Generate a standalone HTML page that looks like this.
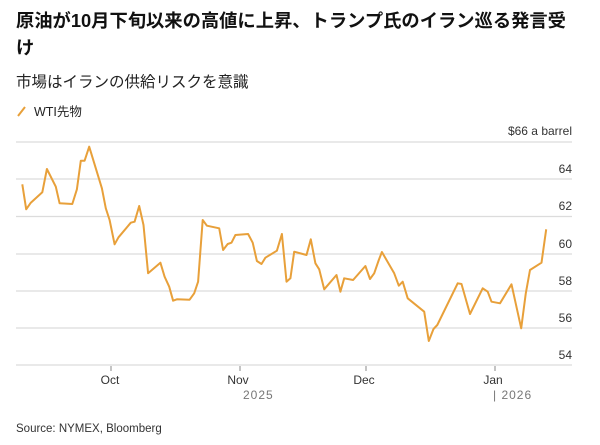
<!DOCTYPE html>
<html><head><meta charset="utf-8"><style>
body{margin:0;width:600px;height:445px;background:#fff;overflow:hidden;font-family:"Liberation Sans","Noto Sans CJK JP",sans-serif;color:#111}
.t{position:absolute;left:16px;top:7px;width:566px;font-size:18.3px;font-weight:bold;line-height:27px}
.s{position:absolute;left:16px;top:70px;font-size:15.5px;color:#222}
.l{position:absolute;left:34px;top:101px;font-size:12.5px;color:#222}
</style></head><body>
<div class="t">原油が10月下旬以来の高値に上昇、トランプ氏のイラン巡る発言受け</div>
<div class="s">市場はイランの供給リスクを意識</div>
<svg style="position:absolute;left:16px;top:104px" width="12" height="14"><line x1="2" y1="12" x2="9" y2="3" stroke="#e8a03a" stroke-width="2"/></svg>
<div class="l">WTI先物</div>
<svg width="600" height="445" style="position:absolute;left:0;top:0" font-family="Liberation Sans, sans-serif">
<g stroke="#dcdcdc" stroke-width="1.3">
<line x1="16" x2="572" y1="142" y2="142"/><line x1="16" x2="572" y1="179" y2="179"/><line x1="16" x2="572" y1="216.5" y2="216.5"/><line x1="16" x2="572" y1="254" y2="254"/><line x1="16" x2="572" y1="291" y2="291"/><line x1="16" x2="572" y1="328" y2="328"/><line x1="16" x2="572" y1="365" y2="365"/>
</g>
<g stroke="#888" stroke-width="1"><line x1="111" x2="111" y1="366" y2="371"/><line x1="240" x2="240" y1="366" y2="371"/><line x1="366" x2="366" y1="366" y2="371"/><line x1="495" x2="495" y1="366" y2="371"/></g>
<g font-size="12" fill="#333" text-anchor="end">
<text x="572" y="135">$66 a barrel</text><text x="572" y="173">64</text><text x="572" y="210">62</text><text x="572" y="248">60</text><text x="572" y="285">58</text><text x="572" y="322">56</text><text x="572" y="359">54</text>
</g>
<g font-size="12" fill="#333" text-anchor="middle">
<text x="110" y="384">Oct</text><text x="238" y="384">Nov</text><text x="364" y="384">Dec</text><text x="493" y="384">Jan</text>
</g>
<g font-size="12" fill="#777" letter-spacing="1"><text x="243" y="399">2025</text><text x="493" y="399">| 2026</text></g>
<text x="16" y="432" font-size="11.5" fill="#333">Source: NYMEX, Bloomberg</text>
<polyline fill="none" stroke="#e8a03a" stroke-width="2" stroke-linejoin="round" points="22.3,184.3 26.2,209.3 30.8,202.7 42.3,192.3 46.9,169 55.8,186.7 59.6,203.3 72.3,204 76.9,189.3 80.8,160.7 84.6,160.7 89.2,146.7 101.9,188.3 105.8,208.3 109.6,220 114.6,244.3 118.5,237.3 130.8,222.7 134.6,221.7 139.2,206 143.5,225 148.1,273.3 160.4,262.7 164.6,276.7 169.2,286.7 173.1,300.7 176.9,299.3 189.6,299.7 194.2,293.3 198.1,281.7 202.7,220 206.9,225.7 219.2,228.3 223.1,250 227.7,244 231.5,242.7 235.4,235 248.1,234 252.7,242.7 256.9,261 261.5,264 265.4,257.7 276.9,250.7 281.9,234 286.5,281.7 290.4,278.3 294.2,251.7 306.5,255 310.8,239.3 315.4,263.3 319.2,269.3 324.2,289.3 336.5,275 340.4,291.7 344.2,278.3 353.1,280 365.4,266 370,279 374.2,273.3 378.8,260 381.9,252 394.2,273.3 398.8,285.7 402.7,281.7 407.7,298.3 424.2,311.7 428.8,341 433.5,329 437.3,325 457.7,283.3 461.5,284 470,314 482.7,288.3 487.7,291.7 491.5,301.7 500,303.3 511.5,284.3 521.2,328.3 525.8,293.3 530,270 541.5,262.7 546.2,229.3"/>
</svg>
</body></html>
